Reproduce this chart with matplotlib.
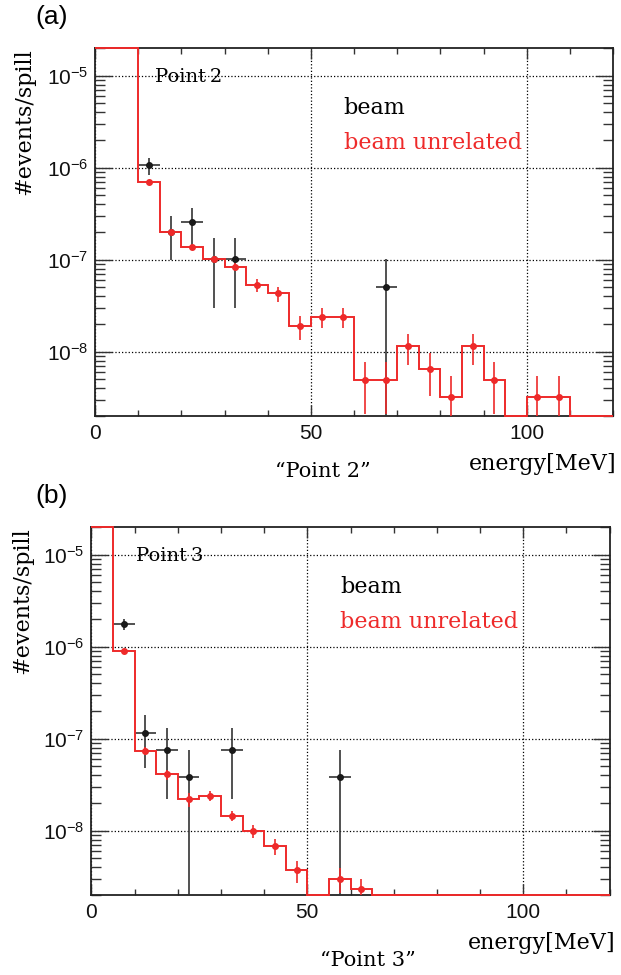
import numpy as np
import matplotlib
matplotlib.use("Agg")
import matplotlib.pyplot as plt
from matplotlib.ticker import MultipleLocator, LogLocator, NullFormatter

plt.rcParams["font.family"] = "Liberation Sans"

# ---------------------------------------------------------------------------
# data, 5 MeV bins from 0 to 120 MeV
# ---------------------------------------------------------------------------
edges = np.arange(0, 125, 5)
YMIN, YMAX = 2e-9, 2e-5

# Point 2: beam unrelated histogram (0 = empty bin, first bins off-scale)
unrel_p2 = [1e-4, 1e-4, 7.0e-7, 2.0e-7, 1.37e-7, 1.02e-7, 8.4e-8, 5.3e-8,
            4.3e-8, 1.9e-8, 2.4e-8, 2.4e-8, 4.9e-9, 4.9e-9, 1.14e-8, 6.5e-9,
            3.2e-9, 1.14e-8, 4.9e-9, 0, 3.2e-9, 3.2e-9, 0, 0]
unrel_p2_err = [1e-5, 1e-5, 2.2e-8, 1.2e-8, 9e-9, 8e-9, 7.5e-9, 9e-9,
                8e-9, 5.5e-9, 6e-9, 6e-9, 2.8e-9, 2.8e-9, 4.2e-9, 3.2e-9,
                2.3e-9, 4.2e-9, 2.8e-9, 0, 2.3e-9, 2.3e-9, 0, 0]
# Point 2: beam points
beam_p2_x = [12.5, 17.5, 22.5, 27.5, 32.5, 67.5]
beam_p2_y = [1.06e-6, 2.0e-7, 2.55e-7, 1.02e-7, 1.02e-7, 5.1e-8]
beam_p2_err = [2.2e-7, 1.0e-7, 1.14e-7, 7.2e-8, 7.2e-8, 5.1e-8]

# Point 3: beam unrelated histogram
unrel_p3 = [1e-4, 9.0e-7, 7.4e-8, 4.1e-8, 2.2e-8, 2.4e-8, 1.45e-8, 9.9e-9,
            6.8e-9, 3.7e-9, 0, 3.0e-9, 2.3e-9, 0, 0, 0,
            0, 0, 0, 0, 0, 0, 0, 0]
unrel_p3_err = [1e-5, 3e-8, 7e-9, 5e-9, 4e-9, 3e-9, 1.9e-9, 1.5e-9,
                1.3e-9, 1.0e-9, 0, 0.9e-9, 0.7e-9, 0, 0, 0,
                0, 0, 0, 0, 0, 0, 0, 0]
# Point 3: beam points
beam_p3_x = [7.5, 12.5, 17.5, 22.5, 32.5, 57.5]
beam_p3_y = [1.76e-6, 1.14e-7, 7.6e-8, 3.8e-8, 7.6e-8, 3.8e-8]
beam_p3_err = [2.6e-7, 6.6e-8, 5.4e-8, 3.8e-8, 5.4e-8, 3.8e-8]

RED = "#ee2a2a"
BLACK = "#1a1a1a"
SERIF = "DejaVu Serif"


def draw_panel(ax, unrel, unrel_err, bx, by, berr, point, point_x):
    unrel = np.asarray(unrel, dtype=float)
    unrel_err = np.asarray(unrel_err, dtype=float)
    centers = 0.5 * (edges[:-1] + edges[1:])

    # beam (black) first, red drawn on top
    ax.errorbar(bx, by, yerr=berr, xerr=2.5, fmt="o", ms=4, color=BLACK,
                ecolor="#333333", elinewidth=1.2, capsize=0, zorder=3)

    # ROOT-like clipping of the histogram to the frame
    ax.stairs(np.clip(unrel, YMIN, YMAX), edges, baseline=None,
              color=RED, lw=1.4, zorder=4, clip_on=False)
    m = unrel > 0
    ax.errorbar(centers[m], unrel[m], yerr=unrel_err[m], fmt="o", ms=4,
                color=RED, ecolor=RED, elinewidth=1.2, capsize=0, zorder=5)

    ax.set_yscale("log")
    ax.set_xlim(0, 120)
    ax.set_ylim(YMIN, YMAX)
    ax.xaxis.set_major_locator(MultipleLocator(50))
    ax.xaxis.set_minor_locator(MultipleLocator(10))
    ax.yaxis.set_major_locator(LogLocator(base=10))
    ax.yaxis.set_minor_locator(LogLocator(base=10, subs=np.arange(2, 10)))
    ax.yaxis.set_minor_formatter(NullFormatter())

    ax.tick_params(which="both", direction="in", top=True, right=True,
                   colors="#333333", labelcolor="#111111")
    ax.tick_params(axis="x", which="major", length=8, width=1.0,
                   labelsize=15, pad=6)
    ax.tick_params(axis="x", which="minor", length=4, width=1.0)
    ax.tick_params(axis="y", which="major", length=12, width=1.0,
                   labelsize=15, pad=5)
    ax.tick_params(axis="y", which="minor", length=7, width=1.0)

    ax.grid(True, which="major", linestyle=":", color="black", lw=0.9)
    ax.set_axisbelow(True)
    for s in ax.spines.values():
        s.set_linewidth(1.3)
        s.set_color("#222222")

    ax.set_ylabel("#events/spill", family=SERIF, fontsize=16, loc="top")
    ax.set_xlabel("energy[MeV]", family=SERIF, fontsize=16, loc="right")

    ax.text(point_x, 0.921, point, transform=ax.transAxes, family=SERIF,
            fontsize=14, va="center", ha="left")
    ax.text(0.48, 0.838, "beam", transform=ax.transAxes, family=SERIF,
            fontsize=16, color="black", va="center", ha="left")
    ax.text(0.48, 0.741, "beam unrelated", transform=ax.transAxes,
            family=SERIF, fontsize=16, color=RED, va="center", ha="left")


fig = plt.figure(figsize=(6.21, 9.75), dpi=100)
W, H = 621.0, 975.0

ax_a = fig.add_axes([95 / W, 1 - 416 / H, 518 / W, 368 / H])
draw_panel(ax_a, unrel_p2, unrel_p2_err, beam_p2_x, beam_p2_y, beam_p2_err,
           "Point\u20092", 0.115)
ax_a.yaxis.set_label_coords(-0.115, 1.0)
ax_a.xaxis.set_label_coords(1.006, -0.1)

ax_b = fig.add_axes([91.5 / W, 1 - 895 / H, 518 / W, 368 / H])
draw_panel(ax_b, unrel_p3, unrel_p3_err, beam_p3_x, beam_p3_y, beam_p3_err,
           "Point\u20093", 0.085)
ax_b.yaxis.set_label_coords(-0.112, 1.0)
ax_b.xaxis.set_label_coords(1.011, -0.1)

fig.text(35 / W, 1 - 17 / H, "(a)", fontsize=19, ha="left", va="center")
fig.text(35 / W, 1 - 496 / H, "(b)", fontsize=19, ha="left", va="center")
fig.text(323 / W, 1 - 472 / H, "\u201cPoint 2\u201d", family=SERIF,
         fontsize=15, ha="center", va="center")
fig.text(368 / W, 1 - 960 / H, "\u201cPoint 3\u201d", family=SERIF,
         fontsize=15, ha="center", va="center")

fig.savefig("out.png", dpi=100)
